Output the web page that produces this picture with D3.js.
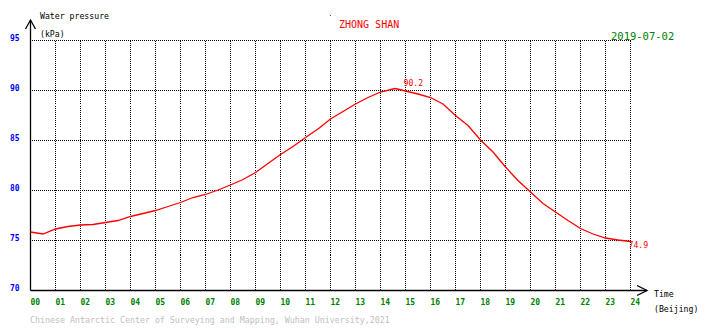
<!DOCTYPE html>
<html>
<head>
<meta charset="utf-8">
<script src="https://cdn.jsdelivr.net/npm/d3@7"></script>
<style>
  html, body { margin: 0; padding: 0; background: #fff; }
  svg { display: block; }
  text { font-family: "DejaVu Sans Mono", monospace; }
</style>
</head>
<body>
<svg id="chart" width="710" height="328"></svg>
<script>
// Half-hourly water pressure (kPa), Beijing time
const hours = [0, 0.5, 1, 1.5, 2, 2.5, 3, 3.5, 4, 4.5, 5, 5.5, 6, 6.5, 7, 7.5, 8, 8.5,
  9, 9.5, 10, 10.5, 11, 11.5, 12, 12.5, 13, 13.5, 14, 14.5, 14.6, 15, 15.5, 16, 16.5,
  17, 17.5, 18, 18.5, 19, 19.5, 20, 20.5, 21, 21.5, 22, 22.5, 23, 23.5, 24];
const pressure = [75.85, 75.65, 76.15, 76.4, 76.55, 76.6, 76.8, 77.0, 77.4, 77.7, 78.0,
  78.4, 78.8, 79.3, 79.6, 80.05, 80.55, 81.1, 81.8, 82.7, 83.6, 84.4, 85.3, 86.15,
  87.15, 87.9, 88.65, 89.3, 89.85, 90.15, 90.2, 89.95, 89.65, 89.3, 88.65, 87.5, 86.5,
  85.05, 83.85, 82.35, 81.0, 79.85, 78.7, 77.85, 77.0, 76.2, 75.65, 75.25, 75.05, 74.9];

const xTickValues = d3.range(0, 25);
const xTickLabels = xTickValues.map(h => String(h).padStart(2, "0"));
const yTickValues = [70, 75, 80, 85, 90, 95];

const station = "ZHONG SHAN";
const dateLabel = "2019-07-02";
const credit = "Chinese Antarctic Center of Surveying and Mapping, Wuhan University,2021";

const svg = d3.select("#chart");

const x = d3.scaleLinear().domain([0, 24]).range([30.5, 630.5]);
const y = d3.scaleLinear().domain([70, 95]).range([290.5, 40.5]);

// dotted grid
const grid = svg.append("g")
  .attr("stroke", "#000")
  .attr("stroke-width", 1)
  .attr("stroke-dasharray", "1,1")
  .attr("shape-rendering", "crispEdges");
grid.selectAll("line.h").data(yTickValues.filter(v => v > 70)).join("line")
  .attr("class", "h")
  .attr("x1", x(0) + 1).attr("x2", x(24))
  .attr("y1", d => y(d)).attr("y2", d => y(d));
grid.selectAll("line.v").data(xTickValues.filter(h => h > 0)).join("line")
  .attr("class", "v")
  .attr("x1", d => x(d)).attr("x2", d => x(d))
  .attr("y1", y(95)).attr("y2", y(70));

// axes lines with open arrows
const axes = svg.append("g").attr("stroke", "#000").attr("stroke-width", 1.3).attr("fill", "none");
axes.append("line").attr("x1", x(0)).attr("x2", x(0)).attr("y1", 20).attr("y2", y(70));
axes.append("polyline").attr("points", `${x(0) - 5},29 ${x(0)},20 ${x(0) + 5},29`);
axes.append("line").attr("x1", x(0)).attr("x2", 647).attr("y1", y(70)).attr("y2", y(70));
axes.append("polyline").attr("points", `637,285.5 647,${y(70)} 637,295.5`);

// tick labels
svg.append("g").selectAll("text").data(yTickValues).join("text")
  .attr("x", 10).attr("y", d => y(d) - 2)
  .attr("dominant-baseline", "middle")
  .attr("fill", "#0000ff")
  .attr("font-size", 8).attr("font-weight", "bold")
  .text(d => d);

svg.append("g").selectAll("text").data(xTickValues).join("text")
  .attr("x", d => x(d)).attr("y", 302)
  .attr("dominant-baseline", "middle")
  .attr("fill", "#008000")
  .attr("font-size", 8).attr("font-weight", "bold")
  .text((d, i) => xTickLabels[i]);

// axis titles
const t = svg.append("g").attr("fill", "#000").attr("font-size", 8.2);
t.append("text").attr("x", 40).attr("y", 16).attr("dominant-baseline", "middle").text("Water pressure");
t.append("text").attr("x", 40).attr("y", 34).attr("dominant-baseline", "middle").text("(kPa)");
t.append("text").attr("x", 654).attr("y", 294).attr("dominant-baseline", "middle").text("Time");
t.append("text").attr("x", 654).attr("y", 309.5).attr("dominant-baseline", "middle").text("(Beijing)");

// title, date, credit
svg.append("rect").attr("x", 330).attr("y", 15).attr("width", 1).attr("height", 1).attr("fill", "#ff0000");
svg.append("text").attr("x", 339).attr("y", 25).attr("dominant-baseline", "middle")
  .attr("fill", "#ff0000").attr("font-size", 10).text(station);
svg.append("text").attr("x", 611).attr("y", 37).attr("dominant-baseline", "middle")
  .attr("fill", "#008000").attr("font-size", 10.5).text(dateLabel);
svg.append("text").attr("x", 30).attr("y", 320).attr("dominant-baseline", "middle")
  .attr("fill", "#c0c0c0").attr("font-size", 8.3).text(credit);

// pressure curve
const pts = hours.map((h, i) => [h, pressure[i]]);
const line = d3.line().x(d => x(d[0])).y(d => y(d[1])).curve(d3.curveLinear);
svg.append("path").datum(pts)
  .attr("d", line)
  .attr("fill", "none")
  .attr("stroke", "#ff0000")
  .attr("stroke-width", 1.3);

// max and last value labels
const maxIdx = d3.maxIndex(pressure);
svg.append("text")
  .attr("x", x(hours[maxIdx]) + 8).attr("y", y(pressure[maxIdx]) - 5)
  .attr("dominant-baseline", "middle")
  .attr("fill", "#ff0000").attr("font-size", 8.2)
  .text(pressure[maxIdx].toFixed(1));
const last = pressure.length - 1;
svg.append("text")
  .attr("x", x(hours[last]) - 2).attr("y", y(pressure[last]) + 4)
  .attr("dominant-baseline", "middle")
  .attr("fill", "#ff0000").attr("font-size", 8.2)
  .text(pressure[last].toFixed(1));
</script>
</body>
</html>
